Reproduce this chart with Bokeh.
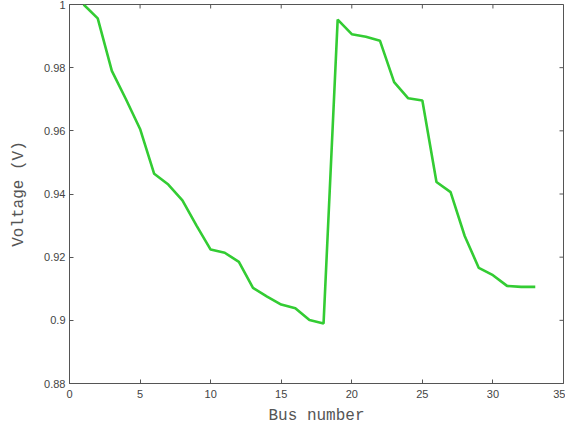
from bokeh.plotting import figure
from bokeh.models import FixedTicker, CustomJSTickFormatter, Range1d
from bokeh.embed import file_html
from bokeh.resources import INLINE

bus = list(range(1, 34))
voltage = [1.0, 0.9956, 0.979, 0.970, 0.9606, 0.9464, 0.943, 0.938, 0.930, 0.9224,
           0.9214, 0.9185, 0.9103, 0.9075, 0.905, 0.9038, 0.9001, 0.8990,
           0.9952, 0.9906, 0.9898, 0.9885, 0.9754, 0.9703, 0.9696, 0.9438,
           0.9406, 0.9267, 0.9166, 0.9143, 0.9109, 0.9106, 0.9106]

x_ticks = [0, 5, 10, 15, 20, 25, 30, 35]
y_ticks = [0.88, 0.9, 0.92, 0.94, 0.96, 0.98, 1.0]

X0, X1 = 0, 35
Y0, Y1 = 0.88, 1.0
BL, BR, BT, BB = 69, 2, 4, 43
W, H = 565, 427
FW = W - BL - BR
FH = H - BT - BB

p = figure(width=W, height=H, output_backend="svg", toolbar_location=None,
           x_range=Range1d(X0, X1), y_range=Range1d(Y0, Y1),
           min_border_left=BL, min_border_right=BR, min_border_top=BT, min_border_bottom=BB)
p.xgrid.visible = False
p.ygrid.visible = False
p.outline_line_color = "#555555"
p.outline_line_width = 1
p.background_fill_color = "white"
p.border_fill_color = "white"

p.line(bus, voltage, line_color="#33cc33", line_width=2.6)

# inward ticks on the top and right edges (box on), length 4px converted to data units
tick_len_y = 4 * (Y1 - Y0) / FH
tick_len_x = 4 * (X1 - X0) / FW
p.segment(x0=x_ticks, y0=[Y1] * len(x_ticks), x1=x_ticks, y1=[Y1 - tick_len_y] * len(x_ticks),
          line_color="#555555", line_width=1)
p.segment(x0=[X1] * len(y_ticks), y0=y_ticks, x1=[X1 - tick_len_x] * len(y_ticks), y1=y_ticks,
          line_color="#555555", line_width=1)

fmt = CustomJSTickFormatter(code="return Number(tick.toFixed(2)).toString();")

for ax in (p.xaxis[0], p.yaxis[0]):
    ax.major_tick_in = 4
    ax.major_tick_out = 0
    ax.minor_tick_in = 0
    ax.minor_tick_out = 0
    ax.axis_line_color = "#555555"
    ax.major_tick_line_color = "#555555"
    ax.major_label_text_font = "Liberation Sans"
    ax.major_label_text_font_size = "11px"
    ax.major_label_text_color = "#444444"
    ax.axis_label_text_font = "Liberation Mono"
    ax.axis_label_text_font_size = "16px"
    ax.axis_label_text_font_style = "normal"
    ax.axis_label_text_color = "#555555"
    ax.formatter = fmt

p.xaxis[0].ticker = FixedTicker(ticks=x_ticks)
p.yaxis[0].ticker = FixedTicker(ticks=y_ticks)
p.xaxis[0].axis_label = "Bus number"
p.yaxis[0].axis_label = "Voltage (V)"
p.xaxis[0].major_label_standoff = 6
p.xaxis[0].axis_label_standoff = 6
p.yaxis[0].major_label_standoff = 4
p.yaxis[0].axis_label_standoff = 13

open("out.html", "w").write(file_html(p, INLINE))
